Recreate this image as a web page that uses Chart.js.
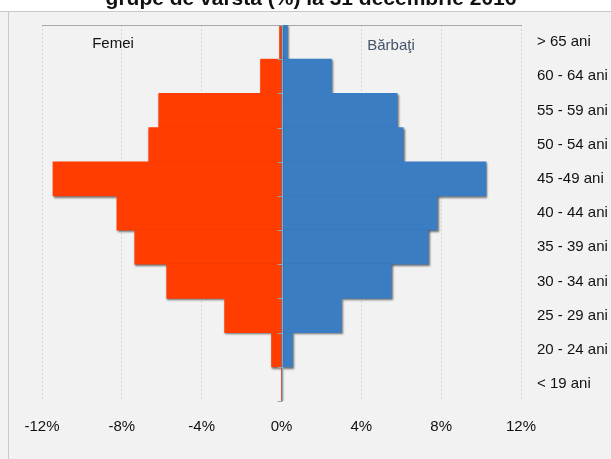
<!DOCTYPE html>
<html>
<head>
<meta charset="utf-8">
<script src="https://cdn.jsdelivr.net/npm/chart.js@4.4.0/dist/chart.umd.min.js"></script>
<style>
  html, body { margin:0; padding:0; background:#ffffff; }
  body { width:611px; height:459px; position:relative; overflow:hidden; font-family:"Liberation Sans", Arial, sans-serif; }
  #box { position:absolute; left:0; top:11px; width:611px; height:448px; background:#f2f2f2; border-top:1px solid #c8c8c8; }
  #lborder { position:absolute; left:8px; top:11px; width:1px; height:448px; background:#c8c8c8; }
  #title { position:absolute; left:0; width:622px; top:-13px; text-align:center; font-weight:bold; font-size:21px; line-height:21px; color:#111; white-space:nowrap; }
  .lab { position:absolute; font-size:15px; line-height:15px; white-space:nowrap; transform:translate(-50%,-50%); }
  #wrap { position:absolute; left:0; top:0; width:611px; height:459px; }
</style>
</head>
<body>
<div id="box"></div>
<div id="lborder"></div>
<div id="wrap"><canvas id="c" width="611" height="459"></canvas></div>
<div id="title">grupe de vârstă (%) la 31 decembrie 2016</div>
<div class="lab" style="left:113px; top:42px; color:#111;">Femei</div>
<div class="lab" style="left:391px; top:44px; color:#44546a;">Bărbaţi</div>
<script>
const categories = ["> 65 ani","60 - 64 ani","55 - 59 ani","50 - 54 ani","45 -49 ani","40 - 44 ani","35 - 39 ani","30 - 34 ani","25 - 29 ani","20 - 24 ani","< 19 ani"];
const femei   = [-0.1, -1.05, -6.15, -6.65, -11.45, -8.25, -7.35, -5.75, -2.85, -0.5, 0];
const barbati = [0.3, 2.5, 5.8, 6.1, 10.25, 7.8, 7.35, 5.5, 3.0, 0.55, 0];
const xTicksMin = -12, xTicksMax = 12, xStep = 4;

const shadowPlugin = {
  id: 'barShadow',
  beforeDatasetsDraw(chart) {
    const ctx = chart.ctx;
    ctx.save();
    ctx.shadowColor = 'rgba(0,0,0,0.55)';
    ctx.shadowBlur = 2;
    ctx.shadowOffsetX = 1;
    ctx.shadowOffsetY = 1.5;
  },
  afterDatasetsDraw(chart) {
    chart.ctx.restore();
    const ctx = chart.ctx;
    const xs = chart.scales.x, ys = chart.scales.y, a = chart.chartArea;
    const x0 = Math.round(xs.getPixelForValue(0)) + 0.5;
    ctx.save();
    ctx.strokeStyle = '#8fa6bf';
    ctx.lineWidth = 1;
    ctx.beginPath();
    ctx.moveTo(x0, a.top);
    ctx.lineTo(x0, a.bottom);
    const n = categories.length;
    for (let i = 0; i <= n; i++) {
      const yy = Math.round(i === n ? a.bottom : (i === 0 ? a.top : (ys.getPixelForValue(i - 1) + ys.getPixelForValue(i)) / 2)) + 0.5;
      ctx.moveTo(x0 - 5, yy);
      ctx.lineTo(x0, yy);
    }
    ctx.stroke();
    ctx.restore();
  }
};

new Chart(document.getElementById('c'), {
  type: 'bar',
  data: {
    labels: categories,
    datasets: [
      { label: 'Femei', data: femei, backgroundColor: '#ff3d00', borderWidth: 0 },
      { label: 'Bărbaţi', data: barbati, backgroundColor: '#3a7dc2', borderWidth: 0 }
    ]
  },
  plugins: [shadowPlugin],
  options: {
    indexAxis: 'y',
    responsive: false,
    animation: false,
    devicePixelRatio: 1,
    layout: { padding: { left: 42, top: 14, right: 0, bottom: 0 } },
    datasets: { bar: { barPercentage: 1, categoryPercentage: 1 } },
    plugins: { legend: { display: false }, title: { display: false }, tooltip: { enabled: false } },
    scales: {
      x: {
        type: 'linear', stacked: true, min: xTicksMin, max: xTicksMax, position: 'bottom',
        ticks: { stepSize: xStep, color: '#111', padding: 17, font: { family: 'Liberation Sans', size: 15 }, callback: v => v + '%' },
        grid: { color: '#d4d4d4', drawTicks: false, lineWidth: 1 },
        border: { display: false, dash: [2, 2] },
        afterFit: s => { s.height = 58; }
      },
      x2: {
        type: 'linear', min: xTicksMin, max: xTicksMax, position: 'top',
        ticks: { display: false },
        grid: { drawOnChartArea: false, drawTicks: false },
        border: { display: true, color: '#a8a8a8', width: 1 },
        afterFit: s => { s.height = 0; }
      },
      y: {
        type: 'category', stacked: true, position: 'right',
        ticks: { color: '#111', padding: 16, font: { family: 'Liberation Sans', size: 15 } },
        grid: { display: false, drawTicks: false },
        border: { display: false },
        afterFit: s => { s.width = 90; }
      }
    }
  }
});
</script>
</body>
</html>
